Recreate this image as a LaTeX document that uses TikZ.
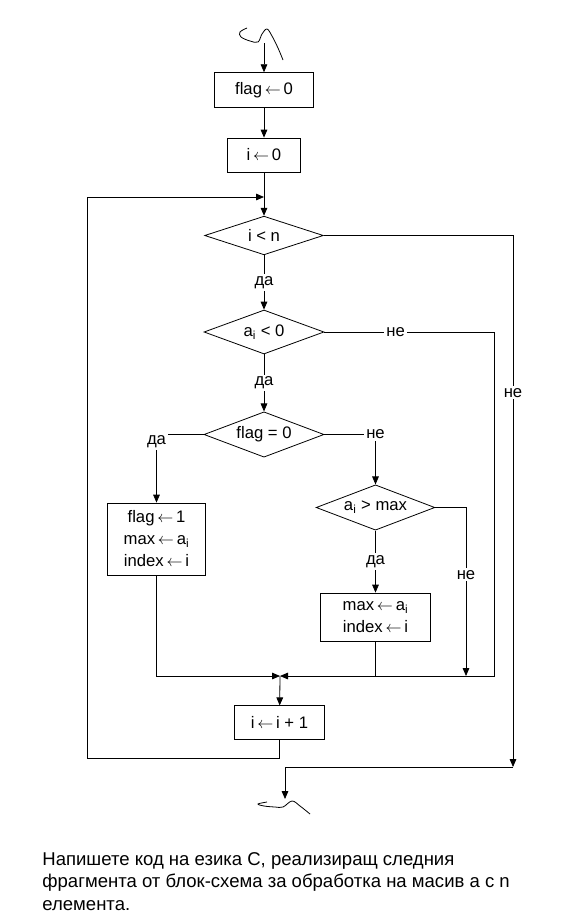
\documentclass[tikz,border=0pt]{standalone}
\usepackage{fontspec}
\setmainfont{Liberation Sans}
\usetikzlibrary{shapes.geometric, positioning, arrows.meta}

\newcommand{\ai}{a\textsubscript{i}}
\newcommand{\assign}{\,$\leftarrow$\,}

\begin{document}
\begin{tikzpicture}[
    x=0.75pt, y=-0.75pt,
    ->, >={Triangle[length=6pt, width=5pt]}, line width=0.6pt,
    font=\fontsize{12.5}{16.5}\selectfont,
    block/.style={draw, rectangle, inner sep=2pt, align=center},
    test/.style={draw, diamond, inner sep=0pt, aspect=2.7},
    lbl/.style={fill=white, inner sep=1.5pt}
]
    \useasboundingbox (0,0) rectangle (583,921);

    \node[block, minimum width=74pt, minimum height=26pt] (F0) at (264,90) {flag\assign 0};
    \node[block, minimum width=55pt, minimum height=25.5pt] (I0) at (264,155) {i\assign 0};
    \node[test, minimum width=89pt, minimum height=29pt] (C1) at (264,235.5) {i < n};
    \node[test, minimum width=90pt, minimum height=33pt] (C2) at (264,332) {\ai{} < 0};
    \node[test, minimum width=90pt, minimum height=34pt] (C3) at (264,434.5) {flag = 0};
    \node[test, minimum width=89pt, minimum height=34pt] (C4) at (375.5,507.5) {\ai{} > max};
    \node[block, minimum width=74pt, minimum height=54pt] (B1) at (156.5,539) {flag\assign 1\\max\assign \ai\\index\assign i};
    \node[block, minimum width=82pt, minimum height=36pt] (B2) at (375.5,617) {max\assign \ai\\index\assign i};
    \node[block, minimum width=67pt, minimum height=25pt] (I1) at (279.5,722.5) {i\assign i + 1};

    \coordinate (in) at (264,43);
    \coordinate (back) at (264,197);
    \coordinate (J) at (280,676);
    \coordinate (R1) at (494,676);
    \coordinate (R2) at (466,676);
    \coordinate (L1) at (87,758);
    \coordinate (X1) at (513,767);
    \coordinate (out) at (285,799);

    % entry and exit marks
    \draw[-] plot[smooth, tension=0.6] coordinates {(247,28) (240,32) (241,37) (250,41) (258,42) (262,34) (267,29) (272,36) (278,48) (283,60)};
    \draw[-] plot[smooth, tension=0.6] coordinates {(267,802) (258,804) (264,806) (275,807) (283,807) (292,801) (300,806) (310,814)};

    \draw (in) -- (F0);
    \draw (F0) -- (I0);
    \draw (I0) -- (C1);
    \draw (C1) -- node[lbl] {да} (C2);
    \draw (C2) -- node[lbl] {да} (C3);
    \draw (C3.west) -| node[lbl, yshift=-5.5pt] {да} (B1);
    \draw (C3.east) -| node[lbl] {не} (C4);
    \draw (C4) -- node[lbl] {да} (B2);
    \draw (C4.east) -| node[lbl, pos=0.7] {не} (R2);
    \draw (C2.east) -| node[lbl, pos=0.21] {не} (R1) -- (J);
    \draw (B1.south) |- (J);
    \draw[-] (B2.south) -- (B2.south |- J);
    \draw (J) -- (I1);
    \draw (I1.south) |- (L1) |- (back);
    \draw (C1.east) -| node[lbl, pos=0.648] {не} (X1);
    \draw (X1) -| (out);

    \node[anchor=north west, align=left, inner sep=0pt, font=\fontsize{13.9}{16.8}\selectfont] (task) at (42,852)
        {Напишете код на езика C, реализиращ следния\\фрагмента от блок-схема за обработка на масив а с n\\елемента.};
\end{tikzpicture}
\end{document}
